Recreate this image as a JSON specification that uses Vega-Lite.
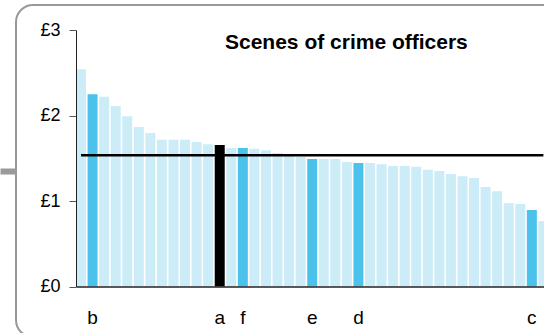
{
  "$schema": "https://vega.github.io/schema/vega-lite/v6.json",
  "autosize": "none",
  "width": 545,
  "height": 332,
  "padding": {"left": 16, "top": 5, "right": 0, "bottom": 0},
  "background": "white",
  "config": {
    "font": "Liberation Sans",
    "view": {"stroke": "#999999", "strokeWidth": 2, "cornerRadius": 17}
  },
  "title": {
    "text": "Scenes of crime officers",
    "anchor": "start",
    "frame": "group",
    "dx": 209,
    "offset": -65,
    "baseline": "alphabetic",
    "fontSize": 21,
    "fontWeight": "bold",
    "color": "#000000"
  },
  "resolve": {"axis": {"y": "independent"}},
  "layer": [
    {
      "data": {
        "values": [
          {"rank": 1, "value": 2.54, "group": "other", "label": ""},
          {"rank": 2, "value": 2.25, "group": "highlight", "label": "b"},
          {"rank": 3, "value": 2.22, "group": "other", "label": ""},
          {"rank": 4, "value": 2.11, "group": "other", "label": ""},
          {"rank": 5, "value": 1.99, "group": "other", "label": ""},
          {"rank": 6, "value": 1.865, "group": "other", "label": ""},
          {"rank": 7, "value": 1.795, "group": "other", "label": ""},
          {"rank": 8, "value": 1.715, "group": "other", "label": ""},
          {"rank": 9, "value": 1.715, "group": "other", "label": ""},
          {"rank": 10, "value": 1.715, "group": "other", "label": ""},
          {"rank": 11, "value": 1.69, "group": "other", "label": ""},
          {"rank": 12, "value": 1.665, "group": "other", "label": ""},
          {"rank": 13, "value": 1.655, "group": "selected", "label": "a"},
          {"rank": 14, "value": 1.62, "group": "other", "label": ""},
          {"rank": 15, "value": 1.62, "group": "highlight", "label": "f"},
          {"rank": 16, "value": 1.61, "group": "other", "label": ""},
          {"rank": 17, "value": 1.595, "group": "other", "label": ""},
          {"rank": 18, "value": 1.56, "group": "other", "label": ""},
          {"rank": 19, "value": 1.545, "group": "other", "label": ""},
          {"rank": 20, "value": 1.515, "group": "other", "label": ""},
          {"rank": 21, "value": 1.49, "group": "highlight", "label": "e"},
          {"rank": 22, "value": 1.49, "group": "other", "label": ""},
          {"rank": 23, "value": 1.49, "group": "other", "label": ""},
          {"rank": 24, "value": 1.455, "group": "other", "label": ""},
          {"rank": 25, "value": 1.445, "group": "highlight", "label": "d"},
          {"rank": 26, "value": 1.445, "group": "other", "label": ""},
          {"rank": 27, "value": 1.43, "group": "other", "label": ""},
          {"rank": 28, "value": 1.41, "group": "other", "label": ""},
          {"rank": 29, "value": 1.41, "group": "other", "label": ""},
          {"rank": 30, "value": 1.4, "group": "other", "label": ""},
          {"rank": 31, "value": 1.365, "group": "other", "label": ""},
          {"rank": 32, "value": 1.35, "group": "other", "label": ""},
          {"rank": 33, "value": 1.315, "group": "other", "label": ""},
          {"rank": 34, "value": 1.29, "group": "other", "label": ""},
          {"rank": 35, "value": 1.27, "group": "other", "label": ""},
          {"rank": 36, "value": 1.165, "group": "other", "label": ""},
          {"rank": 37, "value": 1.115, "group": "other", "label": ""},
          {"rank": 38, "value": 0.975, "group": "other", "label": ""},
          {"rank": 39, "value": 0.965, "group": "other", "label": ""},
          {"rank": 40, "value": 0.895, "group": "highlight", "label": "c"},
          {"rank": 41, "value": 0.765, "group": "other", "label": ""}
        ]
      },
      "layer": [
        {
          "mark": {"type": "bar"},
          "encoding": {
            "x": {
              "field": "rank",
              "type": "ordinal",
              "scale": {"type": "band", "range": [60, 532.4], "paddingInner": 0.135, "paddingOuter": 0},
              "axis": {
                "orient": "bottom",
                "offset": -50.5,
                "labels": false,
                "ticks": false,
                "title": null,
                "domainColor": "#222222",
                "domainWidth": 1.5,
                "zindex": 1
              }
            },
            "y": {
              "field": "value",
              "type": "quantitative",
              "scale": {"domain": [0, 3], "range": [281.5, 25], "nice": false},
              "axis": {
                "orient": "left",
                "offset": -60,
                "values": [0, 1, 2, 3],
                "labelExpr": "'£' + datum.value",
                "grid": false,
                "title": null,
                "tickSize": 7,
                "tickColor": "#555555",
                "domainColor": "#222222",
                "labelFontSize": 18,
                "labelColor": "#000000",
                "labelPadding": 9,
                "zindex": 1
              }
            },
            "color": {
              "field": "group",
              "type": "nominal",
              "scale": {"domain": ["other", "highlight", "selected"], "range": ["#ccecf8", "#4bc2ec", "#000000"]},
              "legend": null
            }
          }
        },
        {
          "mark": {"type": "text", "fontSize": 19, "baseline": "middle", "align": "center", "dy": 31.5, "color": "#000000"},
          "encoding": {
            "x": {"field": "rank", "type": "ordinal"},
            "y": {"datum": 0, "type": "quantitative"},
            "text": {"field": "label"}
          }
        }
      ]
    },
    {
      "data": {"values": [{"start": 1, "end": 41, "average": 1.535}]},
      "mark": {"type": "rule", "color": "#000000", "strokeWidth": 2.5},
      "encoding": {
        "x": {"field": "start", "type": "ordinal"},
        "x2": {"field": "end"},
        "y": {
          "field": "average",
          "type": "quantitative",
          "axis": {
            "orient": "left",
            "offset": 0,
            "values": [1.351],
            "labels": false,
            "domain": false,
            "grid": false,
            "title": null,
            "tickSize": 16,
            "tickWidth": 6,
            "tickColor": "#9a9a9a",
            "tickCap": "butt"
          }
        }
      }
    }
  ]
}
